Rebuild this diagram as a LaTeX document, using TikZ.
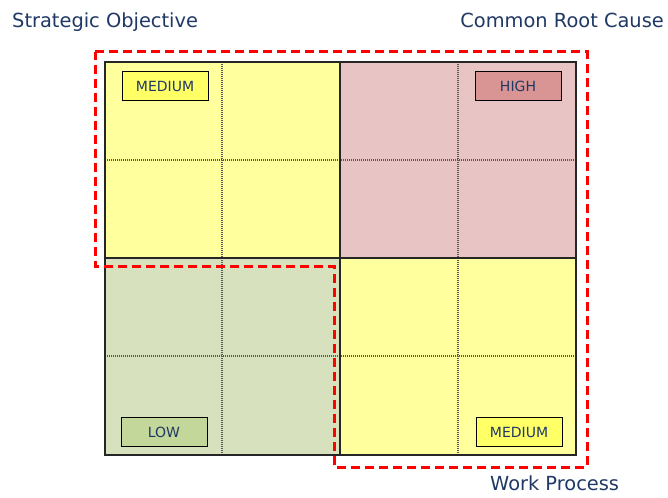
\documentclass[tikz,border=0pt]{standalone}
\usepackage{fontspec}
\setmainfont{DejaVu Sans}
\definecolor{qyellow}{RGB}{255,255,158}
\definecolor{qpink}{RGB}{232,196,196}
\definecolor{qgreen}{RGB}{216,225,190}
\definecolor{bhigh}{RGB}{217,149,148}
\definecolor{blow}{RGB}{196,215,155}
\definecolor{bmed}{RGB}{255,255,102}
\definecolor{navy}{RGB}{31,56,100}
\begin{document}
\begin{tikzpicture}[x=1pt,y=-1pt,
  gridline/.style={draw=black!85,line width=1.5pt},
  dotline/.style={draw=black!65,line width=1.2pt,dash pattern=on 1pt off 1pt},
  zone/.style={draw=red,line width=3pt,dash pattern=on 9pt off 5pt},
  levelbox/.style={draw=black,line width=1pt,minimum width=86pt,minimum height=29pt,inner sep=0pt,text=navy,font=\fontsize{14}{14}\selectfont},
  title/.style={text=navy,inner sep=0pt,font=\fontsize{19.4}{20}\selectfont}]
\useasboundingbox (0,0) rectangle (668,497);
\fill[qyellow] (105,62) rectangle (340,258);
\fill[qpink] (340,62) rectangle (576,258);
\fill[qgreen] (105,258) rectangle (340,455);
\fill[qyellow] (340,258) rectangle (576,455);
\draw[dotline] (222,62) -- (222,455);
\draw[dotline] (458,62) -- (458,455);
\draw[dotline] (105,160) -- (576,160);
\draw[dotline] (105,356) -- (576,356);
\draw[gridline] (105,62) rectangle (576,455);
\draw[gridline] (340,62) -- (340,455);
\draw[gridline] (105,258) -- (576,258);
\draw[zone] (95,52) -- (587,52) -- (587,467) -- (334,467) -- (334,266) -- (95,266) -- cycle;
\node[levelbox,fill=bmed] (medtl) at (165,86.5) {MEDIUM};
\node[levelbox,fill=bhigh] (high) at (518,86.5) {HIGH};
\node[levelbox,fill=blow] (low) at (164,432) {LOW};
\node[levelbox,fill=bmed] (medbr) at (519,432) {MEDIUM};
\node[title,anchor=base west] (strat) at (12,28) {Strategic Objective};
\node[title,anchor=base east] (root) at (664,28) {Common Root Cause};
\node[title,anchor=base west] (work) at (490,490) {Work Process};
\end{tikzpicture}
\end{document}
